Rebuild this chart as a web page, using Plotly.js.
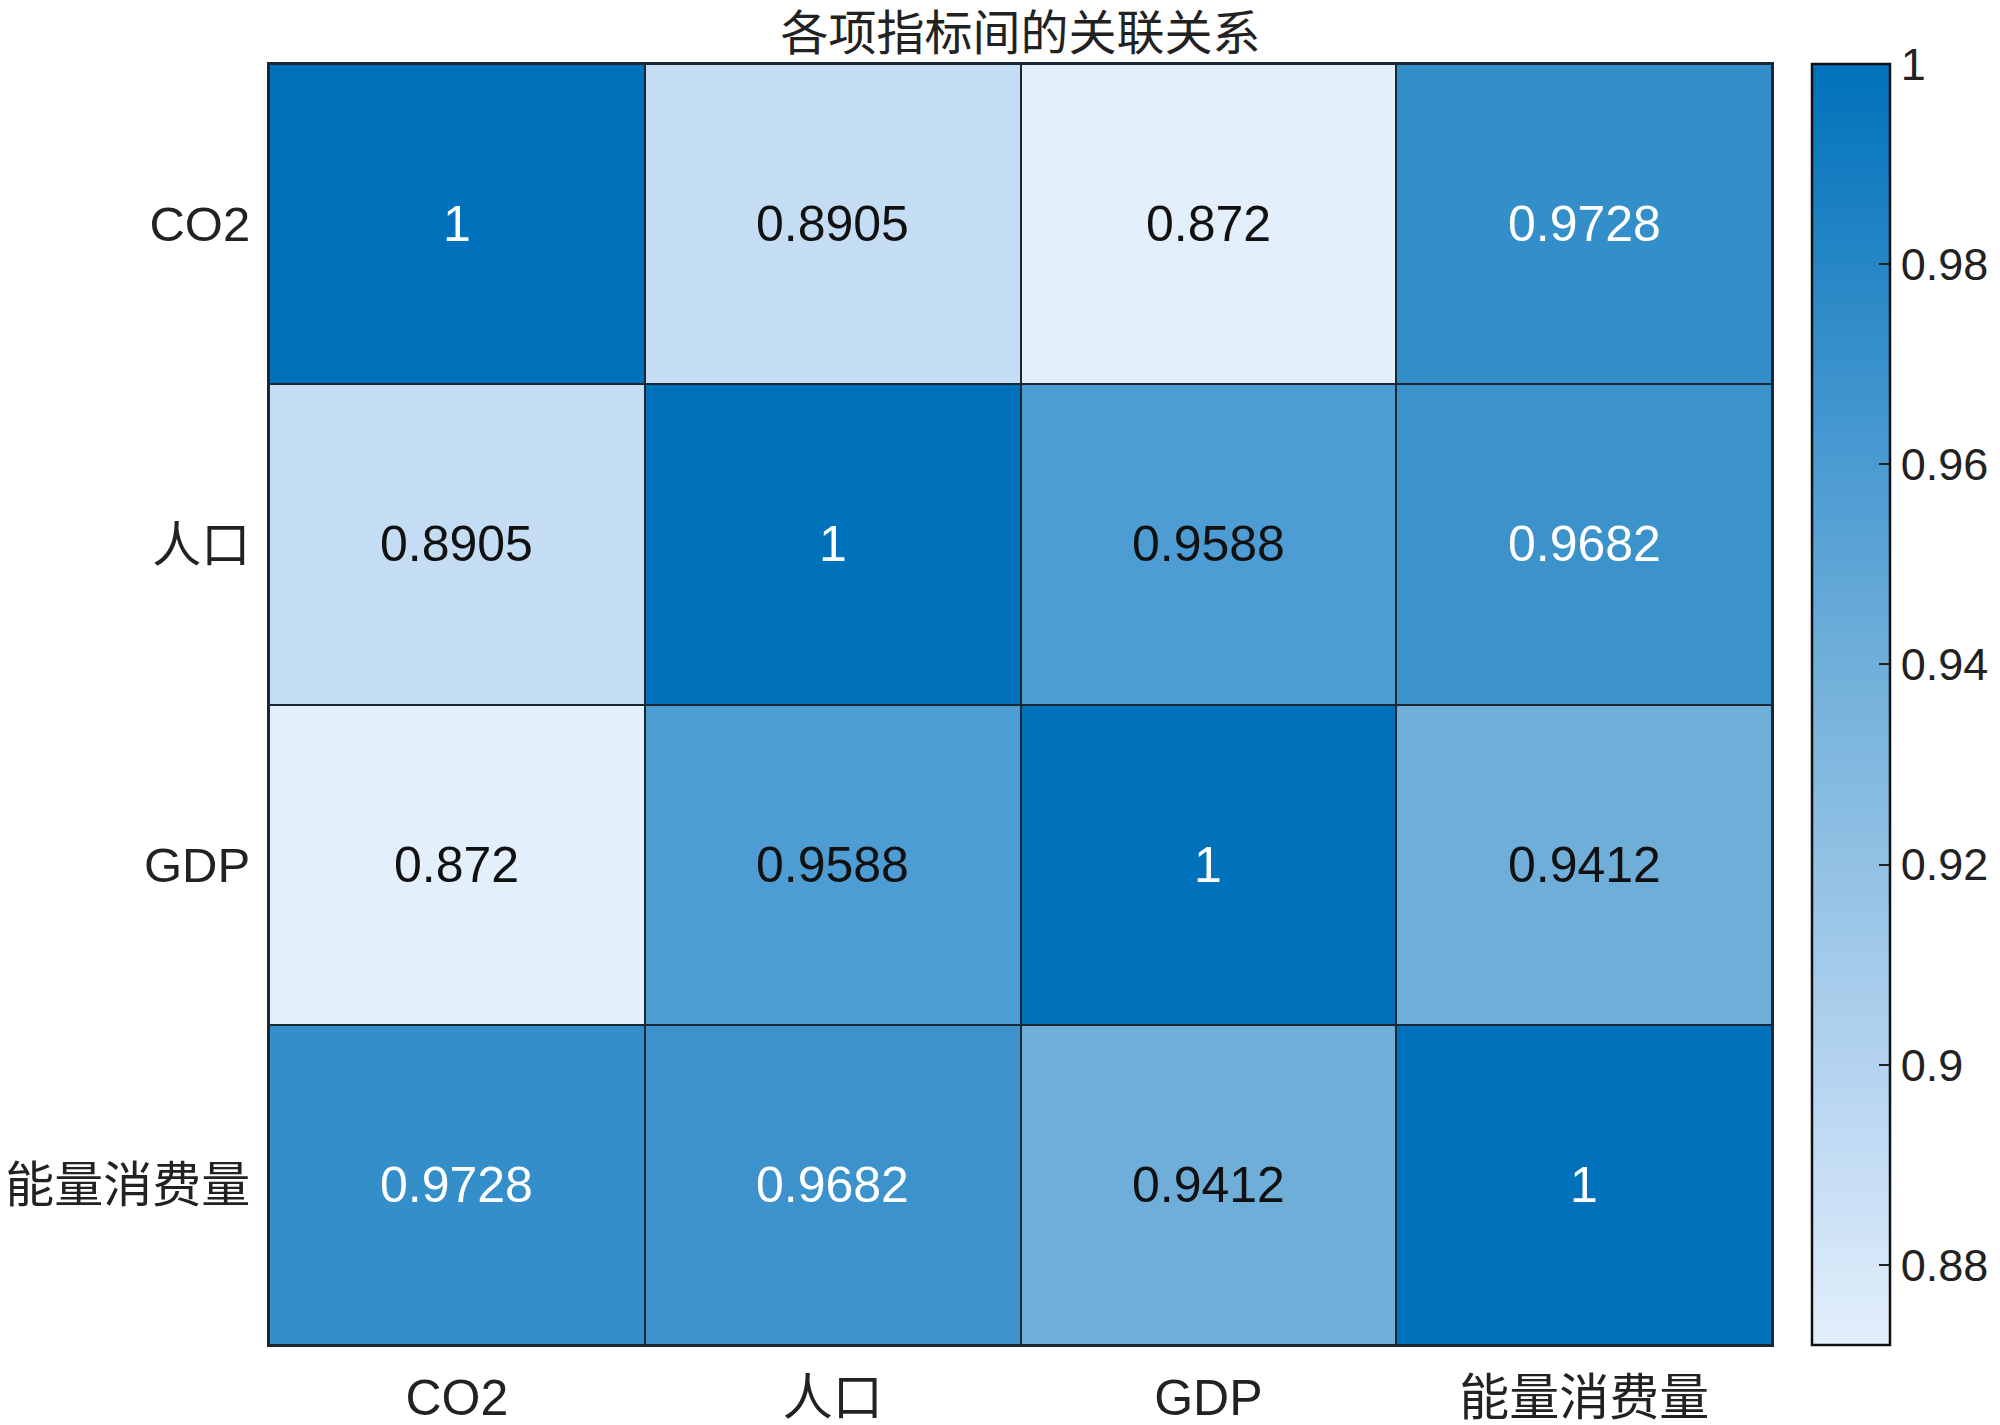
<!DOCTYPE html>
<html>
<head>
<meta charset="utf-8">
<script src="https://cdn.plot.ly/plotly-3.0.1.min.js"></script>
<style>html,body{margin:0;padding:0;background:#fff;}#chart{width:2000px;height:1425px;}</style>
</head>
<body>
<div id="chart"></div>
<script>
const labels = ['CO2', '人口', 'GDP', '能量消费量'];
const rowCO2 = [1, 0.8905, 0.872, 0.9728];
const rowPop = [0.8905, 1, 0.9588, 0.9682];
const rowGDP = [0.872, 0.9588, 1, 0.9412];
const rowEnergy = [0.9728, 0.9682, 0.9412, 1];
const cbTickVals = [0.88, 0.9, 0.92, 0.94, 0.96, 0.98, 1];
const cbTickText = ['0.88', '0.9', '0.92', '0.94', '0.96', '0.98', '1'];

const z = [rowCO2, rowPop, rowGDP, rowEnergy];
const zmin = 0.872, zmax = 1;

const annotations = [];
z.forEach((row, i) => row.forEach((v, j) => {
  annotations.push({
    x: labels[j], y: labels[i], xref: 'x', yref: 'y',
    text: String(v), showarrow: false,
    font: {family: 'Liberation Sans, Arial, sans-serif', size: 50, color: v > 0.965 ? '#ffffff' : '#111111'}
  });
}));

const trace = {
  type: 'heatmap',
  x: labels, y: labels, z: z,
  zmin: zmin, zmax: zmax,
  xgap: 2, ygap: 2,
  colorscale: [[0, '#e3effb'], [0.1445, '#c4dcf4'], [0.54, '#6eaed9'], [0.678, '#4d9cd3'], [0.7875, '#348ec9'], [1, '#0072bb']],
  hoverinfo: 'none',
  colorbar: {
    x: 1.0266, xanchor: 'left', xref: 'paper',
    y: 0.5, yanchor: 'middle', len: 1, lenmode: 'fraction',
    thickness: 78, thicknessmode: 'pixels',
    outlinewidth: 2.5, outlinecolor: '#111',
    tickvals: cbTickVals, ticktext: cbTickText,
    ticks: 'inside', ticklen: 12, tickwidth: 2, tickcolor: '#222',
    tickfont: {family: 'Liberation Sans, Arial, sans-serif', size: 45, color: '#222'},
    ypad: 0, xpad: 0
  }
};

const layout = {
  width: 2000, height: 1425,
  margin: {l: 269, r: 228, t: 64, b: 80, pad: 0, autoexpand: false},
  paper_bgcolor: '#ffffff',
  plot_bgcolor: '#1c2733',
  title: {
    text: '各项指标间的关联关系',
    font: {family: 'Noto Sans CJK SC, sans-serif', size: 48, color: '#222'},
    x: 0.5, xref: 'paper', xanchor: 'center',
    y: 0.977, yref: 'container', yanchor: 'middle'
  },
  xaxis: {
    type: 'category', showgrid: false, zeroline: false,
    ticks: '', ticklabelstandoff: 8,
    showline: true, linecolor: '#1c2733', linewidth: 2, mirror: true,
    tickfont: {family: 'Liberation Sans, Noto Sans CJK SC, sans-serif', size: 50, color: '#222'}
  },
  yaxis: {
    type: 'category', autorange: 'reversed', showgrid: false, zeroline: false,
    ticks: '', ticklabelstandoff: 7,
    showline: true, linecolor: '#1c2733', linewidth: 2, mirror: true,
    tickfont: {family: 'Liberation Sans, Noto Sans CJK SC, sans-serif', size: 49, color: '#222'}
  },
  annotations: annotations
};

Plotly.newPlot('chart', [trace], layout, {displayModeBar: false, staticPlot: true});
</script>
</body>
</html>
